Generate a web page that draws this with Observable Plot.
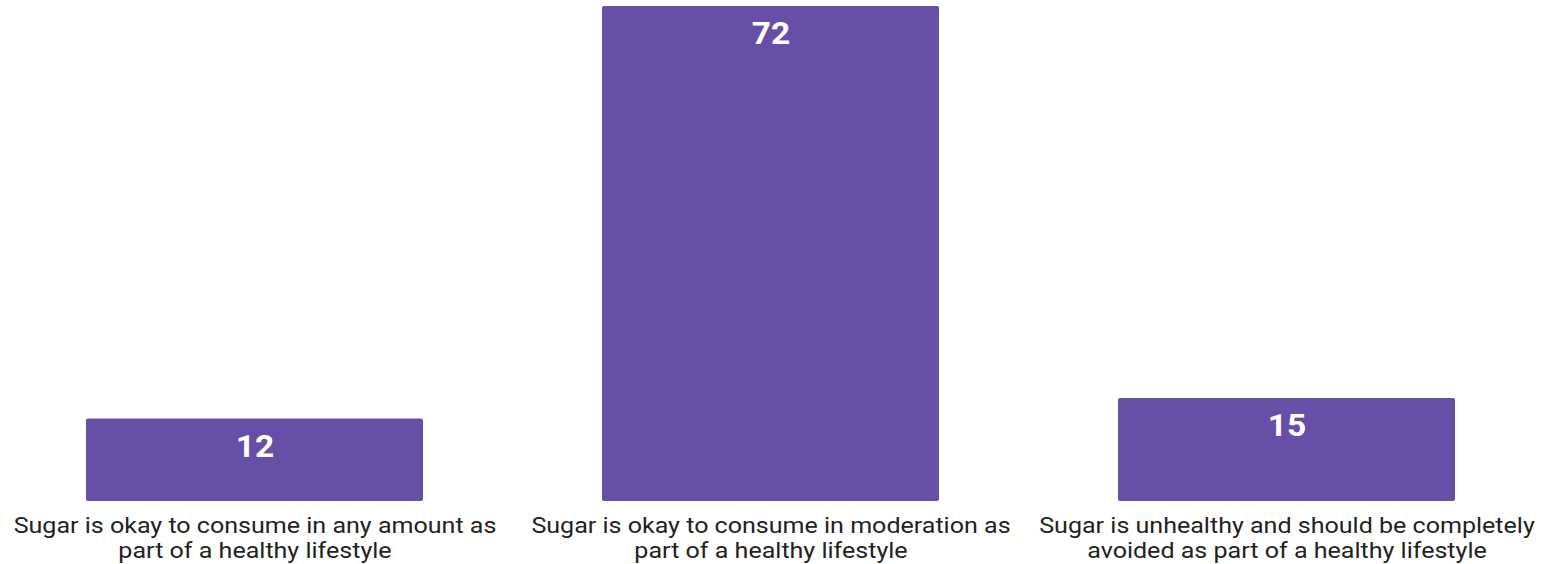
<!DOCTYPE html>
<html>
<head>
<meta charset="utf-8">
<script src="https://cdn.jsdelivr.net/npm/d3@7"></script>
<script src="https://cdn.jsdelivr.net/npm/@observablehq/plot@0.6"></script>
<style>
  html, body { margin: 0; padding: 0; background: #ffffff; }
  #chart svg { display: block; }
</style>
</head>
<body>
<div id="chart"></div>
<script>
// Survey answers on sugar in a healthy lifestyle (share of respondents, %)
const categories = [
  "Sugar is okay to consume in any amount as part of a healthy lifestyle",
  "Sugar is okay to consume in moderation as part of a healthy lifestyle",
  "Sugar is unhealthy and should be completely avoided as part of a healthy lifestyle"
];
const values = [12, 72, 15];
const tickLabels = [
  "Sugar is okay to consume in any amount as\npart of a healthy lifestyle",
  "Sugar is okay to consume in moderation as\npart of a healthy lifestyle",
  "Sugar is unhealthy and should be completely\navoided as part of a healthy lifestyle"
];

const rows = categories.map((c, i) => ({category: c, value: values[i], label: tickLabels[i]}));
const labelOf = new Map(rows.map(d => [d.category, d.label]));

const chart = Plot.plot({
  width: 1545,
  height: 564,
  marginTop: 6,
  marginBottom: 63,
  marginLeft: 0,
  marginRight: 5,
  style: {fontFamily: "Roboto, sans-serif", background: "#ffffff"},
  x: {domain: categories, paddingInner: 0.3475, paddingOuter: 0.1646},
  y: {domain: [0, 72], axis: null},
  marks: [
    Plot.barY(rows, {x: "category", y: "value", fill: "#674ea7", rx: 2}),
    Plot.text(rows, {
      x: "category", y: "value", text: d => String(d.value),
      fill: "#ffffff", fontSize: 31, fontWeight: "bold",
      lineAnchor: "bottom", dy: 37.5, className: "value-label"
    }),
    Plot.axisX({
      tickSize: 0, tickPadding: 14, label: null,
      tickFormat: d => labelOf.get(d),
      fontSize: 22.5, lineHeight: 1.1, fill: "#222222"
    })
  ]
});

// Widen the glyphs slightly around each label's own anchor point
function widen(selection, k) {
  selection.each(function() {
    const t = this.getAttribute("transform") || "";
    this.setAttribute("transform", t + ` scale(${k},1)`);
  });
}
widen(d3.select(chart).selectAll("g[aria-label='x-axis tick label'] text"), 1.114);
widen(d3.select(chart).selectAll(".value-label text"), 1.08);

document.getElementById("chart").append(chart);
</script>
</body>
</html>
